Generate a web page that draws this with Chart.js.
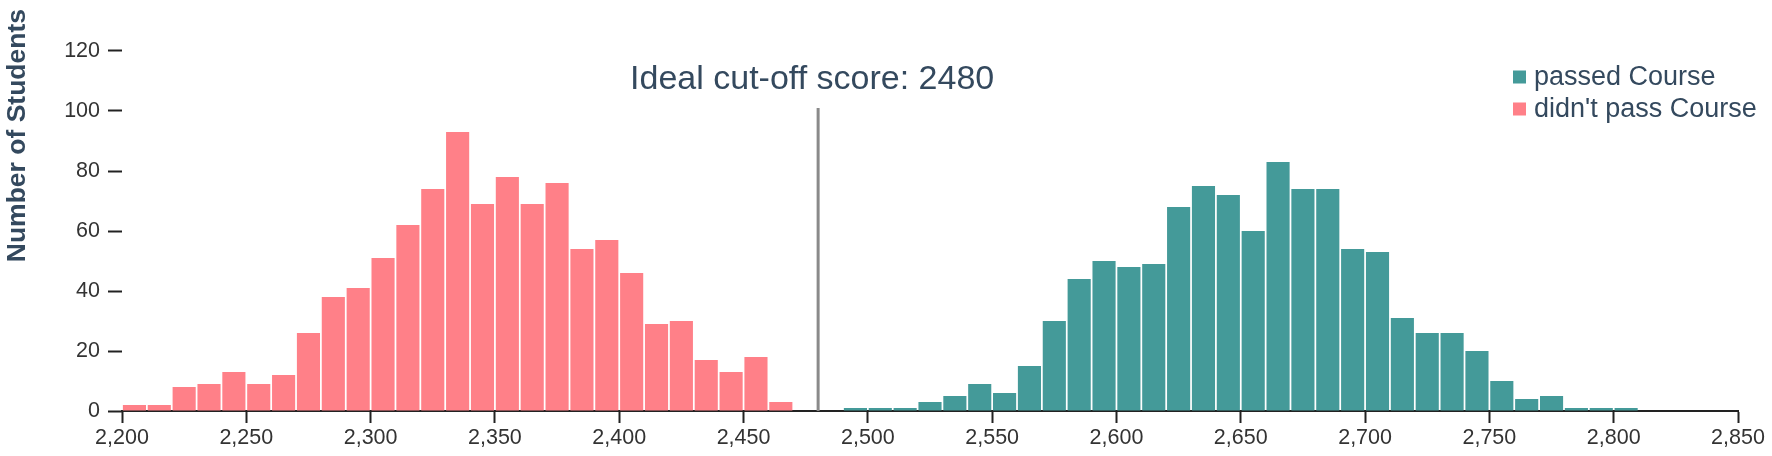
<!DOCTYPE html>
<html>
<head>
<meta charset="utf-8">
<script src="https://cdn.jsdelivr.net/npm/chart.js@4.4.1/dist/chart.umd.min.js"></script>
<style>
  body { margin: 0; background: #fff; }
  #wrap { width: 1772px; height: 456px; }
</style>
</head>
<body>
<div id="wrap"><canvas id="histChart"></canvas></div>
<script>
// bin starts (width 10) and counts
const failBins = [2200, 2210, 2220, 2230, 2240, 2250, 2260, 2270, 2280, 2290,
                  2300, 2310, 2320, 2330, 2340, 2350, 2360, 2370, 2380, 2390,
                  2400, 2410, 2420, 2430, 2440, 2450, 2460];
const failCounts = [2, 2, 8, 9, 13, 9, 12, 26, 38, 41,
                    51, 62, 74, 93, 69, 78, 69, 76, 54, 57,
                    46, 29, 30, 17, 13, 18, 3];

const passBins = [2490, 2500, 2510, 2520, 2530, 2540, 2550, 2560, 2570, 2580,
                  2590, 2600, 2610, 2620, 2630, 2640, 2650, 2660, 2670, 2680,
                  2690, 2700, 2710, 2720, 2730, 2740, 2750, 2760, 2770, 2780,
                  2790, 2800];
const passCounts = [1, 1, 1, 3, 5, 9, 6, 15, 30, 44,
                    50, 48, 49, 68, 75, 72, 60, 83, 74, 74,
                    54, 53, 31, 26, 26, 20, 10, 4, 5, 1,
                    1, 1];

const binWidth = 10;
const cutoff = 2480;
const cutoffLineTop = 101;
const yTicks = [0, 20, 40, 60, 80, 100, 120];
const xTicks = [2200, 2250, 2300, 2350, 2400, 2450, 2500, 2550, 2600, 2650, 2700, 2750, 2800, 2850];

const textColor = '#34495e';
const fontFamily = '"Liberation Sans", Arial, Helvetica, sans-serif';

function toPoints(bins, counts) {
    return bins.map((b, i) => ({ x: b + binWidth / 2, y: counts[i] }));
}

// legend drawn inside the plot, top right
const innerLegend = {
    id: 'innerLegend',
    afterDraw(chart) {
        const ctx = chart.ctx;
        const items = chart.data.datasets.filter(d => d.type === 'bar');
        ctx.save();
        ctx.font = '27px ' + fontFamily;
        ctx.textBaseline = 'middle';
        ctx.textAlign = 'left';
        items.forEach((ds, i) => {
            const cy = 77 + i * 32;
            ctx.fillStyle = ds.backgroundColor;
            ctx.fillRect(1513, cy - 6.5, 13, 13);
            ctx.fillStyle = textColor;
            ctx.fillText(ds.label, 1534, cy + 1);
        });
        ctx.restore();
    }
};

// label over the cut-off line
const cutoffLabel = {
    id: 'cutoffLabel',
    afterDraw(chart) {
        const ctx = chart.ctx;
        const x = chart.scales.x.getPixelForValue(cutoff);
        ctx.save();
        ctx.font = '34px ' + fontFamily;
        ctx.fillStyle = textColor;
        ctx.textAlign = 'center';
        ctx.textBaseline = 'alphabetic';
        ctx.fillText('Ideal cut-off score: ' + cutoff, x - 6, 89);
        ctx.restore();
    }
};

const ctx = document.getElementById('histChart').getContext('2d');
const histChart = new Chart(ctx, {
    type: 'bar',
    data: {
        datasets: [
            {
                type: 'bar',
                label: 'passed Course',
                data: toPoints(passBins, passCounts),
                backgroundColor: '#449a99',
                barPercentage: 0.93,
                categoryPercentage: 1,
                grouped: false
            },
            {
                type: 'bar',
                label: "didn't pass Course",
                data: toPoints(failBins, failCounts),
                backgroundColor: '#ff8088',
                barPercentage: 0.93,
                categoryPercentage: 1,
                grouped: false
            },
            {
                type: 'line',
                label: 'cut-off',
                data: [{ x: cutoff, y: 0 }, { x: cutoff, y: cutoffLineTop }],
                borderColor: '#8a8a8a',
                borderWidth: 3,
                pointRadius: 0,
                fill: false
            }
        ]
    },
    options: {
        responsive: true,
        maintainAspectRatio: false,
        animation: false,
        layout: { padding: { top: 9, right: 34, left: 0, bottom: 0 } },
        plugins: {
            legend: { display: false },
            tooltip: { enabled: false }
        },
        scales: {
            x: {
                type: 'linear',
                min: 2200,
                max: 2850,
                offset: false,
                afterBuildTicks: scale => { scale.ticks = xTicks.map(v => ({ value: v })); },
                afterFit: scale => { scale.height = 45; },
                grid: {
                    display: true,
                    offset: false,
                    drawOnChartArea: false,
                    drawTicks: true,
                    tickLength: 12,
                    tickWidth: 2,
                    tickColor: '#222'
                },
                border: { display: true, color: '#222', width: 2 },
                ticks: {
                    color: '#333',
                    padding: 2,
                    maxRotation: 0,
                    font: { family: fontFamily, size: 21.5 }
                }
            },
            y: {
                min: 0,
                max: 134,
                afterBuildTicks: scale => { scale.ticks = yTicks.map(v => ({ value: v })); },
                afterFit: scale => {
                    scale.width = 122;
                    scale.paddingTop = 0;
                    scale.paddingBottom = 0;
                },
                grid: {
                    display: true,
                    drawOnChartArea: false,
                    drawTicks: true,
                    tickLength: 14,
                    tickWidth: 2,
                    tickColor: '#222'
                },
                border: { display: false },
                ticks: {
                    color: '#333',
                    padding: 8,
                    font: { family: fontFamily, size: 21.5 }
                },
                title: {
                    display: true,
                    text: 'Number of Students',
                    align: 'end',
                    color: textColor,
                    padding: { top: 4, bottom: 0 },
                    font: { family: fontFamily, size: 26.5, weight: 'bold', lineHeight: 1 }
                }
            }
        }
    },
    plugins: [innerLegend, cutoffLabel]
});
</script>
</body>
</html>
